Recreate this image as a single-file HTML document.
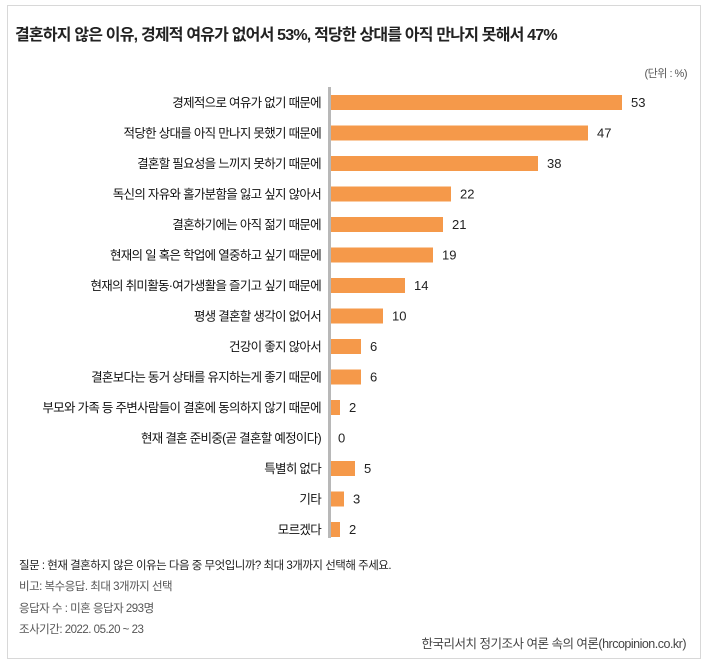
<!DOCTYPE html><html><head><meta charset="utf-8"><style>
body{margin:0;background:#fff;}
svg text{font-family:"Liberation Sans","Noto Sans CJK KR",sans-serif;}
</style></head><body>
<svg width="708" height="665" xmlns="http://www.w3.org/2000/svg">
<rect x="7.5" y="5.5" width="693" height="653" fill="#fff" stroke="#d8d8d8"/>
<text x="15" y="40" font-size="16" font-weight="bold" fill="#222" letter-spacing="-0.8">결혼하지 않은 이유, 경제적 여유가 없어서 53%, 적당한 상대를 아직 만나지 못해서 47%</text>
<text x="687" y="77" font-size="11" fill="#555" text-anchor="end" letter-spacing="-0.5">(단위 : %)</text>
<rect x="328" y="87" width="3" height="451" fill="#b8b8b8"/>
<g fill="#f5994a">
<rect x="331" y="95" width="291" height="15"/>
<rect x="331" y="125.5" width="257" height="15"/>
<rect x="331" y="156" width="207" height="15"/>
<rect x="331" y="186.5" width="120" height="15"/>
<rect x="331" y="217" width="112" height="15"/>
<rect x="331" y="247.5" width="102" height="15"/>
<rect x="331" y="278" width="74" height="15"/>
<rect x="331" y="308.5" width="52" height="15"/>
<rect x="331" y="339" width="30" height="15"/>
<rect x="331" y="369.5" width="30" height="15"/>
<rect x="331" y="400" width="9" height="15"/>
<rect x="331" y="461" width="24" height="15"/>
<rect x="331" y="491.5" width="13" height="15"/>
<rect x="331" y="522" width="9" height="15"/>
</g>
<g font-size="12.5" fill="#111" text-anchor="end" letter-spacing="-0.7">
<text x="321" y="107">경제적으로 여유가 없기 때문에</text>
<text x="321" y="137.5">적당한 상대를 아직 만나지 못했기 때문에</text>
<text x="321" y="168">결혼할 필요성을 느끼지 못하기 때문에</text>
<text x="321" y="198.5">독신의 자유와 홀가분함을 잃고 싶지 않아서</text>
<text x="321" y="229">결혼하기에는 아직 젊기 때문에</text>
<text x="321" y="259.5">현재의 일 혹은 학업에 열중하고 싶기 때문에</text>
<text x="321" y="290">현재의 취미활동·여가생활을 즐기고 싶기 때문에</text>
<text x="321" y="320.5">평생 결혼할 생각이 없어서</text>
<text x="321" y="351">건강이 좋지 않아서</text>
<text x="321" y="381.5">결혼보다는 동거 상태를 유지하는게 좋기 때문에</text>
<text x="321" y="412">부모와 가족 등 주변사람들이 결혼에 동의하지 않기 때문에</text>
<text x="321" y="442.5">현재 결혼 준비중(곧 결혼할 예정이다)</text>
<text x="321" y="473">특별히 없다</text>
<text x="321" y="503.5">기타</text>
<text x="321" y="534">모르겠다</text>
</g>
<g font-size="13" fill="#222">
<text x="631" y="107">53</text>
<text x="597" y="137.5">47</text>
<text x="547" y="168">38</text>
<text x="460" y="198.5">22</text>
<text x="452" y="229">21</text>
<text x="442" y="259.5">19</text>
<text x="414" y="290">14</text>
<text x="392" y="320.5">10</text>
<text x="370" y="351">6</text>
<text x="370" y="381.5">6</text>
<text x="349" y="412">2</text>
<text x="338" y="442.5">0</text>
<text x="364" y="473">5</text>
<text x="353" y="503.5">3</text>
<text x="349" y="534">2</text>
</g>
<g font-size="11.5" fill="#222" letter-spacing="-0.5">
<text x="19" y="569">질문 : 현재 결혼하지 않은 이유는 다음 중 무엇입니까? 최대 3개까지 선택해 주세요.</text>
<text x="19" y="590" fill="#555">비고: 복수응답. 최대 3개까지 선택</text>
<text x="19" y="612" fill="#555">응답자 수 : 미혼 응답자 293명</text>
<text x="19" y="633" fill="#555">조사기간: 2022. 05.20 ~ 23</text>
<text x="686" y="648" text-anchor="end" font-size="12.5" fill="#444">한국리서치 정기조사 여론 속의 여론(hrcopinion.co.kr)</text>
</g>
</svg>
</body></html>
